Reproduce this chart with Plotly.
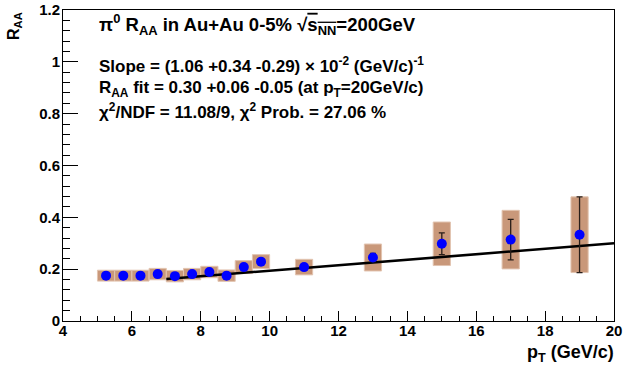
import plotly.graph_objects as go

# pi0 R_AA vs pT in central Au+Au, with statistical and systematic uncertainties
pt = [5.25, 5.75, 6.25, 6.75, 7.25, 7.75, 8.25, 8.75, 9.25, 9.75, 11, 13, 15, 17, 19]
raa = [0.175, 0.175, 0.175, 0.181, 0.173, 0.181, 0.189, 0.175, 0.208, 0.229,
       0.208, 0.245, 0.298, 0.314, 0.333]
stat_err = [0.005, 0.005, 0.005, 0.006, 0.006, 0.007, 0.008, 0.008, 0.009, 0.010,
            0.012, 0.016, 0.042, 0.078, 0.146]
sys_err = [0.021, 0.021, 0.021, 0.022, 0.022, 0.022, 0.022, 0.022, 0.025, 0.027,
           0.030, 0.052, 0.084, 0.113, 0.146]
box_halfwidth = 0.25

# linear fit result
fit_slope = 1.06e-2
fit_at_20 = 0.30
fit_range = [7.0, 20.0]

x_ticks = [4, 6, 8, 10, 12, 14, 16, 18, 20]
y_ticks = [0, 0.2, 0.4, 0.6, 0.8, 1, 1.2]
y_tick_text = ["0", "0.2", "0.4", "0.6", "0.8", "1", "1.2"]

W, H = 624, 368
L, R, T, B = 63, 10, 10, 47
FONT = "Liberation Sans"


def px(xp):
    return (xp - L) / (W - L - R)


def py(yp):
    return (H - B - yp) / (H - T - B)


fig = go.Figure()

# systematic boxes
fig.add_trace(go.Bar(
    x=pt, y=[2 * s for s in sys_err], base=[v - s for v, s in zip(raa, sys_err)],
    width=2 * box_halfwidth,
    marker=dict(color="rgb(201,152,122)", line=dict(color="rgb(226,196,176)", width=1)),
    showlegend=False, hoverinfo="skip",
))

# fit line
fit_y = [fit_at_20 + fit_slope * (x - 20) for x in fit_range]
fig.add_trace(go.Scatter(
    x=fit_range, y=fit_y, mode="lines",
    line=dict(color="black", width=2.6), showlegend=False,
))

# data points with statistical errors
fig.add_trace(go.Scatter(
    x=pt, y=raa, mode="markers",
    marker=dict(color="rgb(0,0,255)", size=10, line=dict(width=0)),
    error_y=dict(type="data", array=stat_err, color="rgb(40,30,25)", thickness=1.3, width=3),
    showlegend=False,
))

tickfont = dict(family=FONT, size=15, color="black", weight="bold")
fig.update_layout(
    width=W, height=H,
    margin=dict(l=L, r=R, t=T, b=B, autoexpand=False),
    paper_bgcolor="white", plot_bgcolor="white",
    barmode="overlay",
    font=dict(family=FONT, size=15, color="black"),
    xaxis=dict(
        range=[4, 20], tickvals=x_ticks, ticktext=[f"<b>{v}</b>" for v in x_ticks],
        ticks="inside", ticklen=10, tickwidth=1, tickcolor="black",
        minor=dict(dtick=0.5, ticks="inside", ticklen=5, tickcolor="black", tickwidth=1),
        showline=True, mirror=True, linecolor="black", linewidth=1,
        showgrid=False, zeroline=False, automargin=False,
        tickfont=tickfont, ticklabelstandoff=-4,
    ),
    yaxis=dict(
        range=[0, 1.2], tickvals=y_ticks, ticktext=[f"<b>{t}</b>" for t in y_tick_text],
        ticks="inside", ticklen=15, tickwidth=1, tickcolor="black",
        minor=dict(dtick=0.04, ticks="inside", ticklen=7, tickcolor="black", tickwidth=1),
        showline=True, mirror=True, linecolor="black", linewidth=1,
        showgrid=False, zeroline=False, automargin=False,
        tickfont=tickfont, ticklabelstandoff=-1,
    ),
)

bold18 = dict(family=FONT, size=18.5, color="black")
bold17 = dict(family=FONT, size=17, color="black")

labels = [
    ('<b>π<sup>0</sup> R<sub>AA</sub> in Au+Au 0-5% √<span style="text-decoration:overline">'
     's<sub>NN</sub></span>=200GeV</b>', 25, bold18),
    ('<b>Slope = (1.06 +0.34 -0.29) × 10<sup>-2</sup> (GeV/c)<sup>-1</sup></b>', 65, bold17),
    ('<b>R<sub>AA</sub> fit = 0.30 +0.06 -0.05 (at p<sub>T</sub>=20GeV/c)</b>', 89, bold17),
    ('<b>χ<sup>2</sup>/NDF = 11.08/9, χ<sup>2</sup> Prob. = 27.06 %</b>', 111, bold17),
]
for text, yc, f in labels:
    fig.add_annotation(text=text, xref="paper", yref="paper", x=px(97), y=py(yc),
                       xanchor="left", yanchor="middle", showarrow=False, font=f)

# axis titles
fig.add_annotation(text="<b>p<sub>T</sub> (GeV/c)</b>", xref="paper", yref="paper",
                   x=px(616), y=py(353), xanchor="right", yanchor="middle",
                   showarrow=False, font=dict(family=FONT, size=18, color="black"))
fig.add_annotation(text="<b>R<sub>AA</sub></b>", xref="paper", yref="paper",
                   x=px(14), y=py(26), xanchor="center", yanchor="middle",
                   textangle=-90, showarrow=False, font=dict(family=FONT, size=16, color="black"))

fig.write_html("out.html")
